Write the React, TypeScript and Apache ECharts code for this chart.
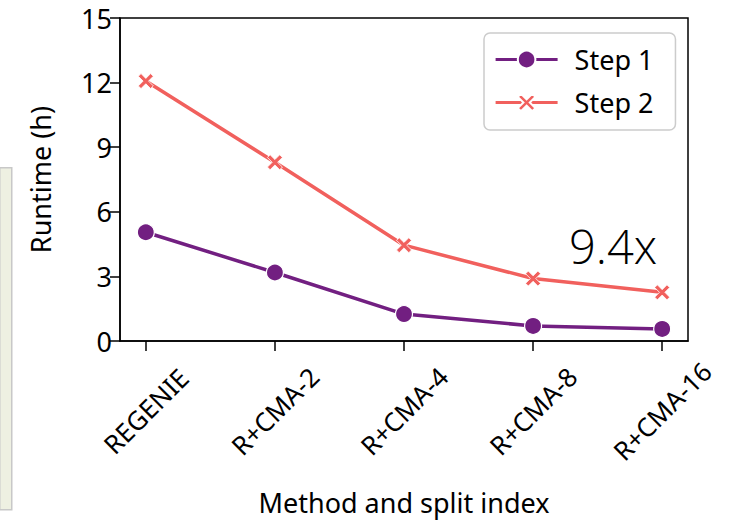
import React, { useEffect, useRef } from "react";
import * as echarts from "echarts";

const categories = ["REGENIE", "R+CMA-2", "R+CMA-4", "R+CMA-8", "R+CMA-16"];
const step1 = [5.05, 3.18, 1.25, 0.7, 0.56];
const step2 = [12.07, 8.3, 4.45, 2.9, 2.26];
const yTicks = [0, 3, 6, 9, 12, 15];
const annotation = "9.4x";

const PURPLE = "#721f81";
const CORAL = "#f1605d";
const FONT = "'Noto Sans', 'Open Sans', sans-serif";
const CROSS =
  "path://M0,1.8 L1.8,0 L5,3.2 L8.2,0 L10,1.8 L6.8,5 L10,8.2 L8.2,10 L5,6.8 L1.8,10 L0,8.2 L3.2,5 Z";

export default function App() {
  const ref = useRef<HTMLDivElement>(null);
  useEffect(() => {
    if (!ref.current) return;
    const chart = echarts.init(ref.current, undefined, { renderer: "svg" });
    const idx = categories.map((_, i) => i);
    chart.setOption({
      animation: false,
      backgroundColor: "#ffffff",
      grid: {
        left: 120,
        right: 42,
        top: 18,
        bottom: 186,
        show: true,
        borderColor: "#000",
        borderWidth: 1.5,
      },
      legend: {
        orient: "vertical",
        left: 484,
        top: 33,
        padding: [13, 22, 14, 10],
        backgroundColor: "#fff",
        borderColor: "#cccccc",
        borderWidth: 1.5,
        borderRadius: 6,
        itemWidth: 62,
        itemHeight: 22,
        itemGap: 16,
        lineStyle: { width: 3.2 },
        textStyle: {
          fontFamily: FONT,
          fontSize: 27,
          color: "#000",
          padding: [0, 0, 0, 12],
        },
        data: ["Step 1", "Step 2"],
      },
      xAxis: {
        type: "value",
        min: -0.2,
        max: 4.2,
        name: "Method and split index",
        nameLocation: "middle",
        nameGap: 148,
        nameTextStyle: { fontFamily: FONT, fontSize: 27, color: "#000" },
        axisLine: { show: true, onZero: false, lineStyle: { color: "#000", width: 1.5 } },
        axisTick: {
          show: true,
          length: 10,
          customValues: idx,
          lineStyle: { color: "#000", width: 1.5 },
        },
        splitLine: { show: false },
        axisLabel: {
          customValues: idx,
          rotate: 45,
          align: "center",
          verticalAlign: "middle",
          margin: 70,
          fontFamily: FONT,
          fontSize: 26,
          color: "#000",
          formatter: (v: number) => categories[Math.round(v)] ?? "",
        },
      },
      yAxis: {
        type: "value",
        min: 0,
        max: 15,
        interval: 3,
        name: "Runtime (h)",
        nameLocation: "middle",
        nameGap: 66,
        nameTextStyle: { fontFamily: FONT, fontSize: 27, color: "#000" },
        axisLine: { show: true, onZero: false, lineStyle: { color: "#000", width: 1.5 } },
        axisTick: { show: true, length: 10, lineStyle: { color: "#000", width: 1.5 } },
        splitLine: { show: false },
        axisLabel: {
          margin: 8,
          fontFamily: FONT,
          fontSize: 27,
          color: "#000",
          formatter: (v: number) => (yTicks.includes(v) ? String(v) : ""),
        },
      },
      series: [
        {
          name: "Step 1",
          type: "line",
          data: step1.map((v, i) => [i, v]),
          symbol: "circle",
          symbolSize: 17,
          lineStyle: { color: PURPLE, width: 3.5 },
          itemStyle: { color: PURPLE, borderColor: "#fff", borderWidth: 1.2 },
          z: 3,
        },
        {
          name: "Step 2",
          type: "line",
          data: step2.map((v, i) => [i, v]),
          symbol: CROSS,
          symbolSize: 15,
          lineStyle: { color: CORAL, width: 3.5 },
          itemStyle: { color: CORAL, borderColor: "#fff", borderWidth: 0.8 },
          z: 2,
        },
      ],
      graphic: [
        {
          type: "rect",
          left: -1,
          top: 167,
          shape: { x: 0, y: 0, width: 12, height: 342 },
          style: { fill: "#eef0e2", stroke: "#c8c8c8", lineWidth: 1.5 },
        },
        {
          type: "text",
          left: 569,
          top: 222,
          style: {
            text: annotation,
            fontFamily: "'Open Sans', sans-serif",
            fontWeight: 300,
            fontSize: 47,
            fill: "#000",
          },
        },
      ],
    });
    return () => chart.dispose();
  }, []);
  return (
    <div
      ref={ref}
      style={{ position: "absolute", left: 0, top: 0, width: 730, height: 527 }}
    />
  );
}
